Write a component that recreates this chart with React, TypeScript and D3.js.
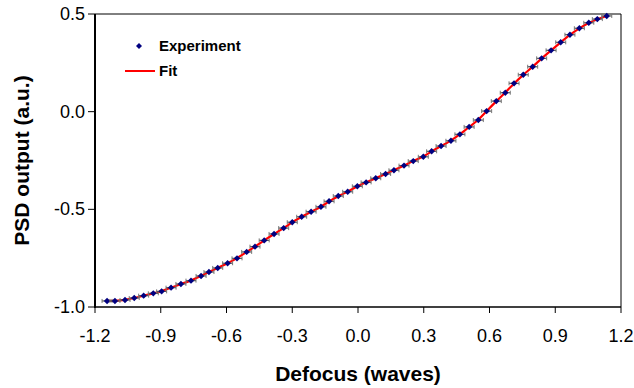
import React from 'react';
import * as d3 from 'd3';

// defocus values (waves)
const defocus = [
  -1.145, -1.109, -1.063, -1.021, -0.978, -0.934, -0.896, -0.853, -0.808, -0.762,
  -0.716, -0.68, -0.64, -0.595, -0.552, -0.508, -0.47, -0.428, -0.383, -0.339,
  -0.3, -0.257, -0.214, -0.169, -0.132, -0.09, -0.047, -0.003, 0.037, 0.081,
  0.126, 0.164, 0.21, 0.252, 0.298, 0.336, 0.379, 0.424, 0.465, 0.507,
  0.549, 0.587, 0.631, 0.672, 0.712, 0.754, 0.797, 0.838, 0.881, 0.925,
  0.967, 1.01, 1.053, 1.092, 1.135,
];

// measured PSD output (a.u.)
const psdOutput = [
  -0.969, -0.969, -0.964, -0.954, -0.942, -0.93, -0.92, -0.901, -0.882, -0.865,
  -0.841, -0.821, -0.8, -0.776, -0.751, -0.718, -0.691, -0.659, -0.626, -0.596,
  -0.566, -0.538, -0.512, -0.487, -0.459, -0.432, -0.41, -0.382, -0.362, -0.341,
  -0.319, -0.3, -0.276, -0.253, -0.231, -0.203, -0.176, -0.149, -0.116, -0.078,
  -0.043, 0.003, 0.054, 0.097, 0.145, 0.189, 0.23, 0.273, 0.314, 0.355,
  0.394, 0.427, 0.455, 0.474, 0.49,
];

const xTicks = [-1.2, -0.9, -0.6, -0.3, 0.0, 0.3, 0.6, 0.9, 1.2];
const yTicks = [-1.0, -0.5, 0.0, 0.5];

const legendLabels = ['Experiment', 'Fit'];

const FONT = '"Liberation Sans", Arial, sans-serif';

const App = () => {
  const width = 634;
  const height = 388;
  const left = 95;
  const right = 621;
  const top = 14;
  const bottom = 307;

  const x = d3.scaleLinear().domain([-1.2, 1.2]).range([left, right]);
  const y = d3.scaleLinear().domain([-1.0, 0.5]).range([bottom, top]);

  const points = defocus.map((d, i) => ({ x: d, y: psdOutput[i] }));

  const fitLine = d3
    .line<{ x: number; y: number }>()
    .x(d => x(d.x))
    .y(d => y(d.y))
    .curve(d3.curveBasis);

  const diamond = (cx: number, cy: number, r: number) =>
    `M${cx},${cy - r}L${cx + r},${cy}L${cx},${cy + r}L${cx - r},${cy}Z`;

  return (
    <svg
      width={width}
      height={height}
      style={{ position: 'absolute', left: 0, top: 0, background: '#fff' }}
    >
      <rect x={0} y={0} width={width} height={height} fill="#fff" />

      {/* plot frame */}
      <line x1={left} x2={right} y1={top} y2={top} stroke="#000" strokeWidth={1} />
      <line x1={right} x2={right} y1={top} y2={bottom} stroke="#000" strokeWidth={1} />

      {/* fit curve */}
      <path d={fitLine(points) || ''} fill="none" stroke="#ff0000" strokeWidth={2.2} />

      {/* experiment points with small error bars */}
      {points.map((p, i) => {
        const cx = x(p.x);
        const cy = y(p.y);
        return (
          <g key={i}>
            <line x1={cx - 5} x2={cx + 5} y1={cy} y2={cy} stroke="#555" strokeWidth={1.2} />
            <line x1={cx - 5} x2={cx - 5} y1={cy - 2} y2={cy + 2} stroke="#777" strokeWidth={1} />
            <line x1={cx + 5} x2={cx + 5} y1={cy - 2} y2={cy + 2} stroke="#777" strokeWidth={1} />
            <path d={diamond(cx, cy, 3.2)} fill="#000080" />
          </g>
        );
      })}

      {/* axes */}
      <line x1={left} x2={left} y1={top} y2={bottom + 1} stroke="#000" strokeWidth={2} />
      <line x1={left - 1} x2={right} y1={bottom} y2={bottom} stroke="#000" strokeWidth={1.5} />

      {xTicks.map(t => (
        <g key={'x' + t}>
          <line x1={x(t)} x2={x(t)} y1={bottom} y2={bottom + 6} stroke="#000" strokeWidth={1} />
          <text
            x={x(t)}
            y={bottom + 35}
            textAnchor="middle"
            fontFamily={FONT}
            fontSize={18}
            fill="#000"
          >
            {t.toFixed(1)}
          </text>
        </g>
      ))}

      {yTicks.map(t => (
        <g key={'y' + t}>
          <line x1={left - 7} x2={left} y1={y(t)} y2={y(t)} stroke="#000" strokeWidth={1} />
          <text
            x={left - 10}
            y={y(t) + 6}
            textAnchor="end"
            fontFamily={FONT}
            fontSize={18}
            fill="#000"
          >
            {t.toFixed(1)}
          </text>
        </g>
      ))}

      {/* axis titles */}
      <text
        x={(left + right) / 2}
        y={381}
        textAnchor="middle"
        fontFamily={FONT}
        fontWeight="bold"
        fontSize={21}
        fill="#000"
      >
        Defocus (waves)
      </text>
      <text
        transform={`translate(29,${(top + bottom) / 2}) rotate(-90)`}
        textAnchor="middle"
        fontFamily={FONT}
        fontWeight="bold"
        fontSize={21}
        fill="#000"
      >
        PSD output (a.u.)
      </text>

      {/* legend */}
      <path d={diamond(139, 46, 3)} fill="#000080" />
      <text x={159} y={51} fontFamily={FONT} fontWeight="bold" fontSize={15} fill="#000">
        {legendLabels[0]}
      </text>
      <line x1={125} x2={155} y1={71} y2={71} stroke="#ff0000" strokeWidth={2} />
      <text x={159} y={76} fontFamily={FONT} fontWeight="bold" fontSize={15} fill="#000">
        {legendLabels[1]}
      </text>
    </svg>
  );
};

export default App;
